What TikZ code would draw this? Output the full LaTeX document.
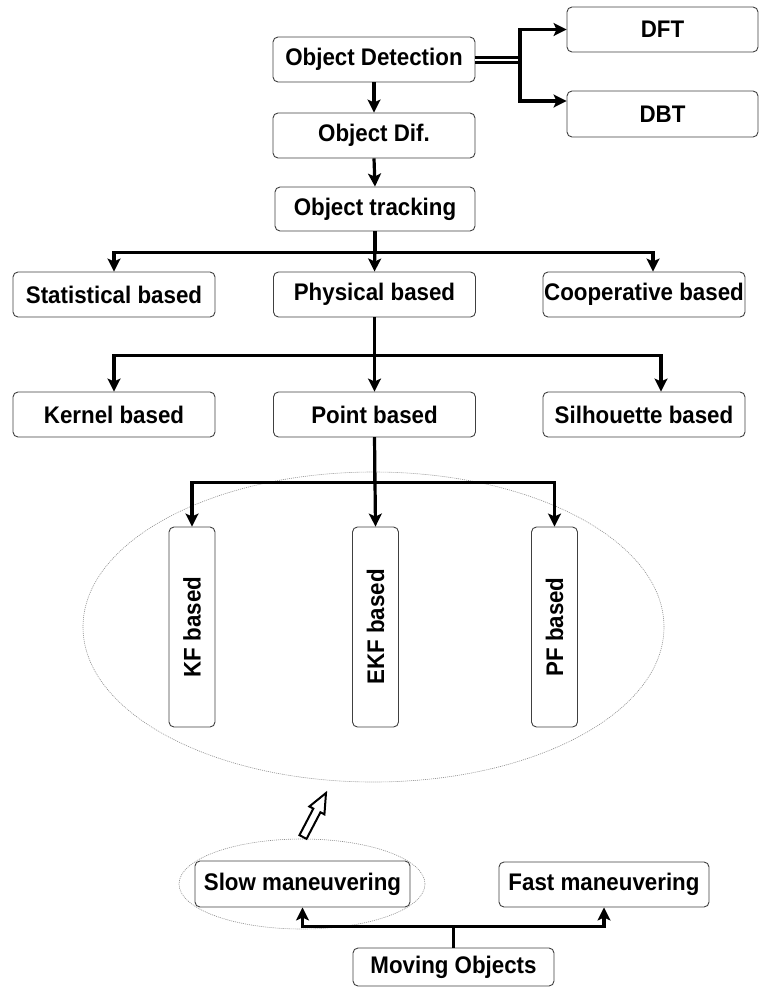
\documentclass[tikz,border=0pt]{standalone}
\usepackage{fontspec}
\setmainfont[FakeStretch=0.93]{Liberation Sans}
\usetikzlibrary{shapes.geometric,arrows.meta,calc}
\begin{document}
\begin{tikzpicture}[x=1pt,y=-1pt,
  box/.style={draw=black!75, line width=0.9pt, rounded corners=5pt, fill=white,
    inner sep=0pt, font=\fontsize{24}{28}\selectfont\bfseries, text=black},
  wide/.style={box, minimum width=202pt, minimum height=45pt},
  tall/.style={box, minimum width=46pt, minimum height=200pt},
  link/.style={line width=3.2pt, -{Stealth[length=13pt,width=13pt,inset=3pt]}},
  halo/.style={draw=black!45, line width=0.6pt, dash pattern=on 1pt off 1pt,
    ellipse, inner sep=0pt},
]
\useasboundingbox (0,0) rectangle (760,988);

% grouping ellipses
\node[halo, minimum width=581pt, minimum height=310pt] (big) at (373.5,627) {};
\node[halo, minimum width=246pt, minimum height=90pt] (small) at (302,884) {};

% detection chain
\node[wide] (od)   at (374,59.5)  {Object Detection};
\node[wide] (odif) at (374,135.5) {Object Dif.};
\node[wide, minimum width=200pt, minimum height=44pt] (ot) at (375,209) {Object tracking};
\node[wide, minimum width=191pt] (dft) at (662.5,29.5) {DFT};
\node[wide, minimum width=191pt, minimum height=46pt] (dbt) at (662.5,114) {DBT};

% tracking families
\node[wide] (stat) at (114,294.5) {Statistical based};
\node[wide] (phys) at (374.5,294.5) {Physical based};
\node[wide] (coop) at (644,294.5) {Cooperative based};

% physical variants
\node[wide] (kern)  at (114,414.5) {Kernel based};
\node[wide] (point) at (374.5,414.5) {Point based};
\node[wide] (silh)  at (644,414.5) {Silhouette based};

% filters
\node[tall] (kf)  at (192,627)   {\rotatebox{90}{KF based}};
\node[tall] (ekf) at (375.5,627) {\rotatebox{90}{EKF based}};
\node[tall] (pf)  at (554.5,627) {\rotatebox{90}{PF based}};

% moving objects
\node[wide, minimum width=215pt, minimum height=46pt] (slow) at (302.5,884) {Slow maneuvering};
\node[wide, minimum width=210pt] (fast) at (604,884.5) {Fast maneuvering};
\node[wide, minimum width=201pt, minimum height=38pt] (mov) at (453.5,967) {Moving Objects};

% connectors
\draw[link] (od.south) -- (odif.north);
\draw[link] (odif.south) -- (ot.north);

\coordinate (j) at (520,59.5);
\draw[line width=3pt, double=white, double distance=2pt] (od.east) -- (j);
\draw[link] (j) |- (dft.west);
\draw[link] (j) |- ([yshift=13pt]dbt.west);

\draw[link] (ot.south) -- (phys.north);
\draw[link] (ot.south) -- ++(0,21) -| (stat.north);
\draw[link] (ot.south) -- ++(0,21) -| ([xshift=9pt]coop.north);

\draw[link] (phys.south) -- (point.north);
\draw[link] (phys.south) -- ++(0,38) -| (kern.north);
\draw[link] (phys.south) -- ++(0,38) -| ([xshift=17pt]silh.north);

\draw[link] (point.south) -- (ekf.north);
\draw[link] (point.south) -- ++(0,45) -| (kf.north);
\draw[link] (point.south) -- ++(0,45) -| (pf.north);

\draw[link] (mov.north) -- ++(0,-21) -| (slow.south);
\draw[link] (mov.north) -- ++(0,-21) -| (fast.south);

% hollow arrow from the slow group up to the filter group
\coordinate (tl) at (303,837);
\coordinate (tp) at (326,793);
\coordinate (hb) at ($(tl)!30pt!(tp)$);
\draw[line width=2pt, fill=white, line join=miter]
  ($(tl)!4pt!90:(tp)$) -- ($(hb)!4pt!90:(tp)$) -- ($(hb)!8.5pt!90:(tp)$)
  -- (tp) -- ($(hb)!8.5pt!-90:(tp)$) -- ($(hb)!4pt!-90:(tp)$)
  -- ($(tl)!4pt!-90:(tp)$) -- cycle;
\end{tikzpicture}
\end{document}
